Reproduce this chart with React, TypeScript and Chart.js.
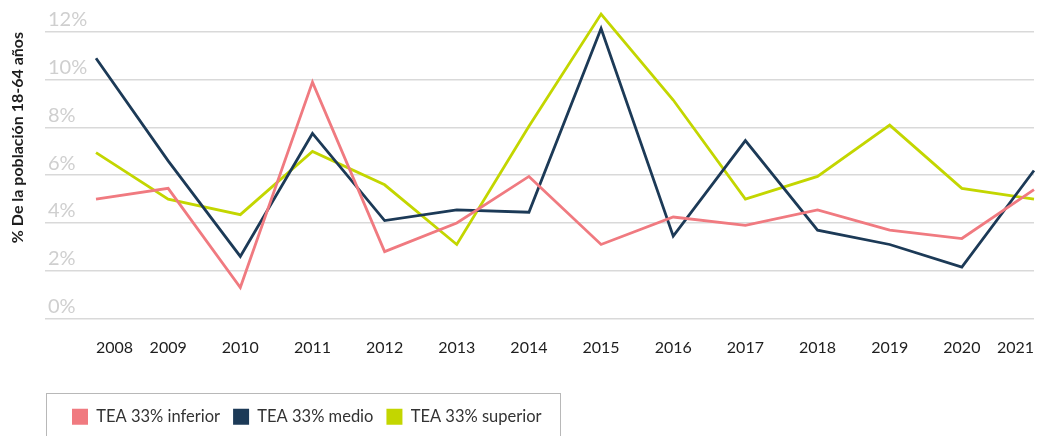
import React, { useEffect, useRef } from "react";
import { Chart, registerables } from "chart.js";

Chart.register(...registerables);

const years = [2008, 2009, 2010, 2011, 2012, 2013, 2014, 2015, 2016, 2017, 2018, 2019, 2020, 2021];
const teaInferior = [5.0, 5.45, 1.3, 9.9, 2.8, 4.0, 5.95, 3.1, 4.25, 3.9, 4.55, 3.7, 3.35, 5.4];
const teaMedio = [10.9, 6.6, 2.6, 7.75, 4.1, 4.55, 4.45, 12.15, 3.45, 7.45, 3.7, 3.1, 2.15, 6.2];
const teaSuperior = [6.95, 5.0, 4.35, 7.0, 5.6, 3.1, 8.05, 12.75, 9.15, 5.0, 5.95, 8.1, 5.45, 5.0];
const seriesLabels = ["TEA 33% inferior", "TEA 33% medio", "TEA 33% superior"];
const seriesColors = ["#f07a80", "#1c3a57", "#c3d600"];
const yTicks = [0, 2, 4, 6, 8, 10, 12];
const yTitle = "% De la población 18-64 años";

const FONT = "Lato, 'Noto Sans', sans-serif";

const legendBoxPlugin = {
  id: "legendBox",
  afterLayout(chart: any) {
    const lg = chart.legend;
    if (lg) {
      lg.left += 14;
      lg.right += 14;
    }
  },
  afterDraw(chart: any) {
    const lg = chart.legend;
    if (!lg || !lg.legendHitBoxes || !lg.legendHitBoxes.length) return;
    const hb = lg.legendHitBoxes;
    const first = hb[0];
    const last = hb[hb.length - 1];
    const cy = first.top + first.height / 2;
    const ctx = chart.ctx;
    ctx.save();
    ctx.strokeStyle = "#b8b8b8";
    ctx.lineWidth = 1;
    const x0 = Math.round(first.left - 26) + 0.5;
    const x1 = Math.round(last.left + last.width + 18) + 0.5;
    const y0 = Math.round(cy - 24) + 0.5;
    ctx.strokeRect(x0, y0, x1 - x0, chart.height + 10 - y0);
    ctx.restore();
  },
};

export default function App() {
  const ref = useRef<HTMLCanvasElement | null>(null);

  useEffect(() => {
    if (!ref.current) return;
    const datasets = [teaInferior, teaMedio, teaSuperior].map((vals, i) => ({
      label: seriesLabels[i],
      data: years.map((y, j) => ({ x: y, y: vals[j] })),
      borderColor: seriesColors[i],
      backgroundColor: seriesColors[i],
      borderWidth: 2.8,
      pointRadius: 0,
      tension: 0,
      clip: false as any,
    }));
    const chart = new Chart(ref.current, {
      type: "line",
      data: { datasets },
      plugins: [legendBoxPlugin],
      options: {
        animation: false,
        responsive: true,
        maintainAspectRatio: false,
        layout: { padding: { top: 32, right: 3, left: 0, bottom: 1 } },
        plugins: {
          tooltip: { enabled: false },
          legend: {
            position: "bottom",
            align: "start",
            fullSize: false,
            labels: {
              boxWidth: 16,
              boxHeight: 16,
              padding: 13,
              color: "#333333",
              font: { family: FONT, size: 16.5 },
              generateLabels: (chart: any) =>
                Chart.defaults.plugins.legend.labels
                  .generateLabels(chart)
                  .map((l: any) => ({ ...l, lineWidth: 0 })),
            },
          },
        },
        scales: {
          x: {
            type: "linear",
            min: 2007.293,
            max: 2021,
            afterFit: (s: any) => {
              s.height = 77;
              s.paddingRight = 0;
              s.paddingLeft = 0;
            },
            grid: { display: false, drawTicks: false },
            border: { display: false },
            ticks: {
              stepSize: 1,
              includeBounds: false,
              autoSkip: false,
              maxRotation: 0,
              align: "inner",
              padding: 20,
              color: "#1e1e1e",
              font: { family: FONT, size: 16 },
              callback: (v: any) => String(v),
            },
          },
          y: {
            type: "linear",
            min: 0,
            max: 12,
            afterFit: (s: any) => {
              s.width = 45;
            },
            afterBuildTicks: (s: any) => {
              s.ticks = yTicks.map((v) => ({ value: v }));
            },
            grid: { color: "#d9d9d9", lineWidth: 1.6, drawTicks: false },
            border: { display: false },
            title: {
              display: true,
              text: yTitle,
              align: "end",
              color: "#1e1e1e",
              font: { family: FONT, size: 16, weight: "bold" },
              padding: { top: 8, bottom: 0 },
            },
            ticks: {
              mirror: true,
              padding: 3,
              labelOffset: -12,
              color: "#cfcfcf",
              font: { family: FONT, size: 20 },
              callback: (v: any) => v + "%",
            },
          },
        },
      } as any,
    });
    return () => chart.destroy();
  }, []);

  return (
    <div style={{ position: "fixed", left: 0, top: 0, width: 1037, height: 436, background: "#ffffff" }}>
      <canvas ref={ref} />
    </div>
  );
}
